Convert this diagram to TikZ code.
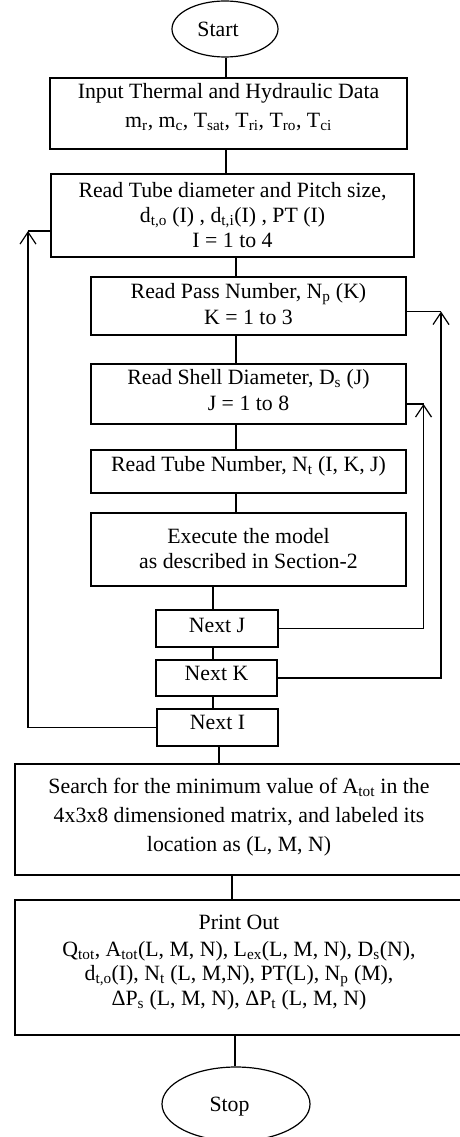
\documentclass[tikz,border=0pt]{standalone}
\usepackage{fontspec}
\setmainfont{Liberation Serif}
\usetikzlibrary{arrows.meta,shapes.geometric}
\newcommand\fz{\fontsize{21.8}{25}\selectfont}
\begin{document}
\begin{tikzpicture}[x=1pt,y=-1pt,
  box/.style={draw,line width=1.2pt,rectangle,inner sep=0pt},
  oval/.style={draw,line width=1.2pt,ellipse,inner sep=0pt},
  txt/.style={anchor=base,inner sep=0pt,font=\fz},
  conn/.style={line width=1.2pt},
  arr/.style={line width=1.2pt,-{Straight Barb[length=12pt,width=16pt,line width=1.2pt]}}]
\useasboundingbox (0,0) rectangle (460,1137);
% shapes
\node[oval,minimum width=106,minimum height=56] (start) at (225,29) {};
\node[box,minimum width=357,minimum height=71] (input) at (228.5,113.5) {};
\node[box,minimum width=363,minimum height=83] (tube) at (232.5,215.5) {};
\node[box,minimum width=315,minimum height=58] (pass) at (248.5,306) {};
\node[box,minimum width=315,minimum height=60] (shell) at (248.5,394) {};
\node[box,minimum width=315,minimum height=43] (tnum) at (248.5,471.5) {};
\node[box,minimum width=315,minimum height=73] (exec) at (248.5,549.5) {};
\node[box,minimum width=122,minimum height=37] (nextJ) at (217,628.5) {};
\node[box,minimum width=121,minimum height=36] (nextK) at (216.5,678) {};
\node[box,minimum width=121,minimum height=37] (nextI) at (217.5,727.5) {};
\node[box,minimum width=448,minimum height=111] (search) at (239,819.5) {};
\node[box,minimum width=448,minimum height=135] (print) at (239,967.5) {};
\node[oval,minimum width=148,minimum height=74] (stop) at (236,1104) {};
% texts
\node[txt] (tstart) at (218,37) {Start};
\node[txt] (tin1) at (228.5,99) {Input Thermal and Hydraulic Data};
\node[txt] (tin2) at (228.5,127.5) {m\textsubscript{r}, m\textsubscript{c}, T\textsubscript{sat}, T\textsubscript{ri}, T\textsubscript{ro}, T\textsubscript{ci}};
\node[txt] (ttu1) at (232.5,197) {Read Tube diameter and Pitch size,};
\node[txt] (ttu2) at (232.5,222) {d\textsubscript{t,o} (I) , d\textsubscript{t,i}(I) , PT (I)};
\node[txt] (ttu3) at (232.5,247) {I = 1 to 4};
\node[txt] (tpa1) at (248.5,298.5) {Read Pass Number, N\textsubscript{p} (K)};
\node[txt] (tpa2) at (248.5,324) {K = 1 to 3};
\node[txt] (tsh1) at (248.5,384) {Read Shell Diameter, D\textsubscript{s} (J)};
\node[txt] (tsh2) at (248.5,410) {J = 1 to 8};
\node[txt] (ttn) at (248.5,471) {Read Tube Number, N\textsubscript{t} (I, K, J)};
\node[txt] (tex1) at (248.5,543.3) {Execute the model};
\node[txt] (tex2) at (248.5,568) {as described in Section-2};
\node[txt] (tnj) at (217,632) {Next J};
\node[txt] (tnk) at (216.5,680.7) {Next K};
\node[txt] (tni) at (217.5,729.3) {Next I};
\node[txt] (tse1) at (239,793.3) {Search for the minimum value of A\textsubscript{tot} in the};
\node[txt] (tse2) at (239,822.7) {4x3x8 dimensioned matrix, and labeled its};
\node[txt] (tse3) at (239,851.5) {location as (L, M, N)};
\node[txt] (tpr1) at (239,929.3) {Print Out};
\node[txt] (tpr2) at (239,956) {Q\textsubscript{tot}, A\textsubscript{tot}(L, M, N), L\textsubscript{ex}(L, M, N), D\textsubscript{s}(N),};
\node[txt] (tpr3) at (239,980) {d\textsubscript{t,o}(I), N\textsubscript{t} (L, M,N), PT(L), N\textsubscript{p} (M),};
\node[txt] (tpr4) at (239,1005.7) {ΔP\textsubscript{s} (L, M, N), ΔP\textsubscript{t} (L, M, N)};
\node[txt] (tstop) at (229.5,1111.7) {Stop};
% straight connectors
\draw[conn] ([xshift=1pt]start.south) -- ([xshift=1pt]start.south |- input.north);
\draw[conn] ([xshift=-2.5pt]input.south) -- ([xshift=-2.5pt]input.south |- tube.north);
\draw[conn] ([xshift=3.5pt]tube.south) -- ([xshift=3.5pt]tube.south |- pass.north);
\draw[conn] ([xshift=-12.5pt]pass.south) -- ([xshift=-12.5pt]pass.south |- shell.north);
\draw[conn] ([xshift=-12.5pt]shell.south) -- ([xshift=-12.5pt]shell.south |- tnum.north);
\draw[conn] ([xshift=-12.5pt]tnum.south) -- ([xshift=-12.5pt]tnum.south |- exec.north);
\draw[conn] ([xshift=-4pt]nextJ.north) -- ([xshift=-4pt]nextJ.north |- exec.south);
\draw[conn] ([xshift=-4pt]nextJ.south) -- ([xshift=-4pt]nextJ.south |- nextK.north);
\draw[conn] ([xshift=-3.5pt]nextK.south) -- ([xshift=-3.5pt]nextK.south |- nextI.north);
\draw[conn] ([xshift=1.5pt]nextI.south) -- ([xshift=1.5pt]nextI.south |- search.north);
\draw[conn] ([xshift=-7pt]search.south) -- ([xshift=-7pt]search.south |- print.north);
\draw[conn] ([xshift=-1pt]stop.north) -- ([xshift=-1pt]stop.north |- print.south);
% loops
\coordinate (Ltop) at (28,231);
\coordinate (Ktop) at (441,311.5);
\coordinate (Jtop) at (423.5,404);
\draw[arr] (nextI.west) -| (Ltop);
\draw[conn] (Ltop) -- (Ltop -| tube.west);
\draw[arr] (nextK.east) -| (Ktop);
\draw[conn] (Ktop) -- (Ktop -| pass.east);
\draw[arr] (nextJ.east) -| (Jtop);
\draw[conn] (Jtop) -- (Jtop -| shell.east);
\end{tikzpicture}
\end{document}
